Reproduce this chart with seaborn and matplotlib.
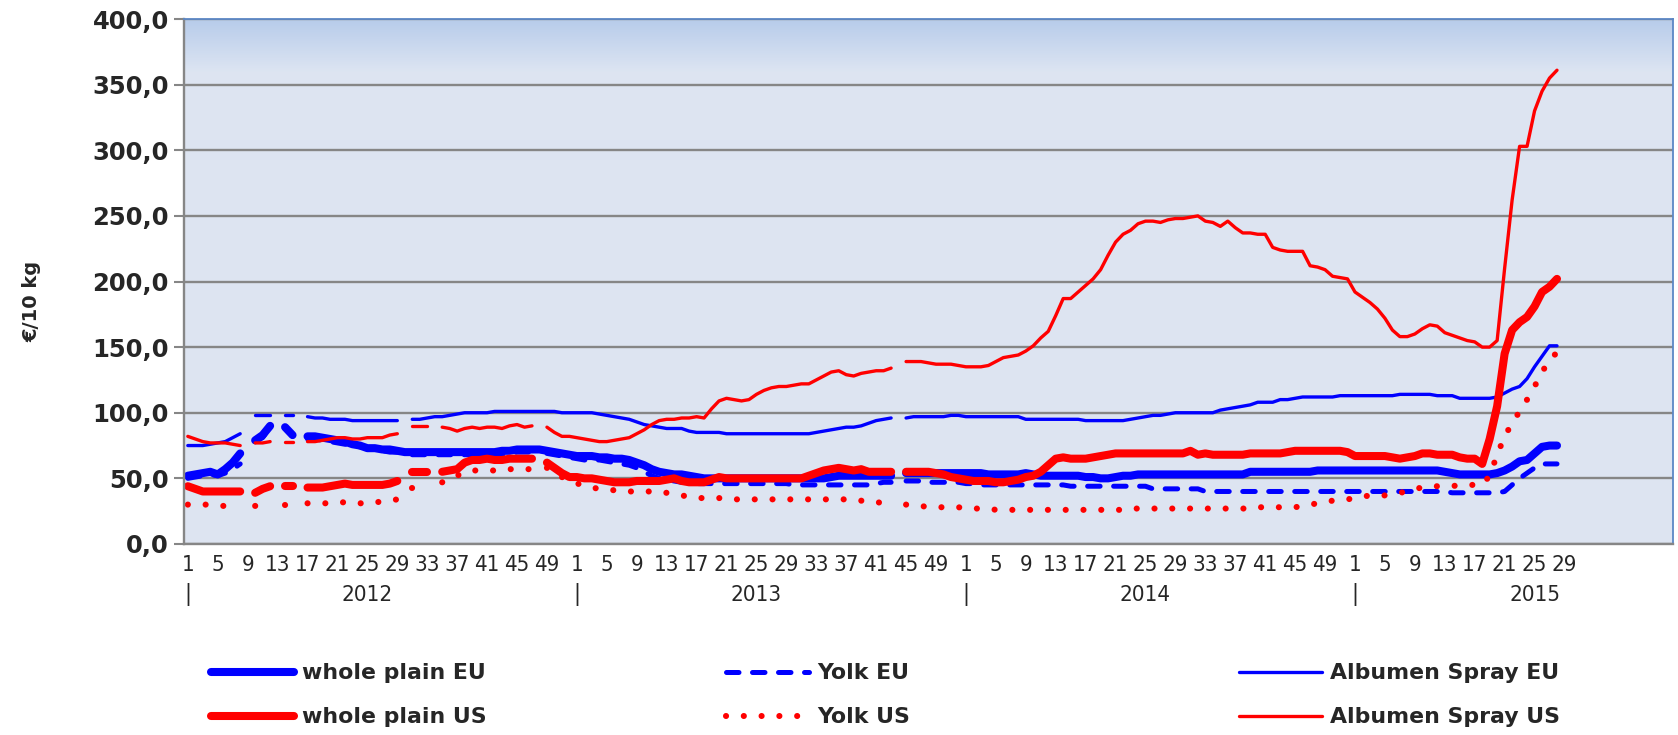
"""Egg product prices EU vs US, weekly 2012-2015 (€/10 kg)."""

import numpy as np
import pandas as pd
import matplotlib
matplotlib.use("Agg")
import matplotlib.pyplot as plt
from matplotlib import font_manager
from matplotlib.font_manager import FontProperties
from matplotlib.lines import Line2D
import matplotlib.transforms as mtransforms
import seaborn as sns

nan = np.nan

# weekly values, 2012 wk1 .. 2015 wk28 (52 + 52 + 52 + 28 weeks); nan = no quotation
whole_plain_eu = (
    [52, 53, 54, 55, 53, 57, 62, 69, nan, 79, 83, 90, nan, 89, 83, nan,
     82, 82, 81, 80, 79, 78, 76, 75, 73, 73, 72, 72, 71]
    + [70] * 13 + [71, 71, 72, 72, 72, 72, 71, 70, 69, 68]
    + [67, 67, 67, 66, 66, 65, 65, 64, 62, 60, 57, 55, 54, 53, 53, 52, 51, 50]
    + [50] * 16 + [51] + [52] * 8 + [nan] + [54] * 8
    + [54, 54, 54, 53, 53, 53, 53, 53, 54, 53, 52, 52, 52, 52, 52, 52, 51, 51,
       50, 50, 51, 52, 52, 53] + [53] * 14 + [55] * 9 + [56] * 5
    + [56] * 11 + [56, 55, 54, 53, 53, 53, 53, 53, 54, 56, 59, 63, 64, 69, 74, 75, 75]
)
yolk_eu = (
    [50, 51, 52, 53, 52, 54, 57, 61, nan, 78, 81, 89, nan, 88, 82, nan,
     80, 80, 79, 78, 77, 76, 75, 74, 73, 72, 71, 70, 70, nan]
    + [68] * 13 + [69, 70, 70, 70, nan, 69, 68, 67, 66]
    + [65, 64, 64, 64, 63, 62, 61, 60, 58, 55, 52, 50, 49, 48, 47, 47, 46, 46]
    + [46] * 11 + [45] * 11 + [46, 47, 47, nan, 48, 48, 48, 47, 47, 47, 47, 47]
    + [46, 46] + [45] * 12 + [44] * 11 + [42] * 7 + [40] * 20
    + [40] * 13 + [39] * 7 + [40, 45, 50, 54, 58, 61, 61, 61]
)
albumen_eu = (
    [75, 75, 75, 76, 77, 78, 81, 84, nan, 98, 98, 98, nan, 98, 98, nan,
     97, 96, 96, 95, 95, 95, 94, 94, 94, 94, 94, 94, 94, nan,
     95, 95, 96, 97, 97, 98, 99, 100, 100, 100, 100] + [101] * 9 + [100, 100]
    + [100, 100, 100, 99, 98, 97, 96, 95, 93, 91, 90, 89, 88, 88, 88, 86, 85, 85,
       85, 85, 84, 84] + [84] * 10
    + [85, 86, 87, 88, 89, 89, 90, 92, 94, 95, 96, nan, 96, 97, 97, 97, 97, 97, 98, 98]
    + [97] * 8 + [95] * 8 + [94] * 6 + [95, 96, 97, 98, 98, 99] + [100] * 6
    + [102, 103, 104, 105, 106, 108, 108, 108, 110, 110, 111, 112] + [112] * 4 + [113, 113]
    + [113] * 6 + [114] * 5 + [113] * 3 + [111] * 5
    + [112, 115, 118, 120, 126, 135, 143, 151, 151]
)
whole_plain_us = (
    [44, 42, 40, 40, 40, 40, 40, 40, nan, 39, 42, 44, nan, 44, 44, nan,
     43, 43, 43, 44, 45, 46, 45, 45, 45, 45, 45, 46, 48, nan, 55, 55, 55, nan,
     55, 56, 57, 62, 64, 64, 65, 64, 64, 65, 65, 65, 65, nan, 62, 58, 54, 51]
    + [51, 50, 50, 49, 48, 47, 47, 47, 48, 48, 48, 48, 49, 50, 48, 47, 47, 47, 49, 51]
    + [50] * 11 + [52, 54, 56, 57, 58, 57, 56, 57, 55, 55, 55, 55, nan,
                   55, 55, 55, 55, 54, 53, 51, 50]
    + [49, 48, 48, 48, 47, 47, 48, 49, 51, 52, 55, 60, 65, 66, 65, 65, 65, 66, 67, 68, 69]
    + [69] * 9 + [71, 68, 69, 68, 68, 68, 68, 68] + [69] * 5 + [70] + [71] * 7 + [70]
    + [67, 67, 67, 67, 67, 66, 65, 66, 67, 69, 69, 68, 68, 68, 66, 65, 65,
       61, 80, 105, 145, 163, 169, 173, 181, 192, 196, 202]
)
yolk_us = (
    [30, 30, 30, 30, 29, 29, 29, 29, nan, 29, 29, 30, nan, 30, 30, nan,
     31, 31, 31, 31, 31, 32, 32, 31, 31, 32, 32, 33, 34, nan, 43, 43, 43, nan,
     47, 50, 52, 55, 56, 56, 56, 56, 56, 57, 57, 57, 57, nan, 58, 55, 51, 48]
    + [46, 45, 43, 42, 41, 41, 40, 40, 40, 40, 40, 39, 39, 38, 37, 36, 35, 35, 35, 35,
       34, 34, 34] + [34] * 15 + [33, 32, 32, 31, 31, nan, 30, 29, 29, 28, 28, 28, 28, 28]
    + [27] * 4 + [26] * 18 + [27] * 17 + [28] * 6 + [29, 30, 31, 32, 33, 33, 34]
    + [35, 36, 37, 37, 37, 38, 39, 40, 42, 43, 44, 44, 44, 44, 45, 45, 45, 45,
       52, 68, 82, 92, 101, 110, 120, 131, 140, 146]
)
albumen_us = (
    [82, 80, 78, 77, 77, 77, 76, 75, nan, 77, 77, 78, nan, 78, 78, nan,
     78, 78, 79, 80, 81, 81, 80, 80, 81, 81, 81, 83, 84, nan, 90, 90, 90, nan,
     89, 88, 86, 88, 89, 88, 89, 89, 88, 90, 91, 89, 90, nan, 89, 85, 82, 82]
    + [81, 80, 79, 78, 78, 79, 80, 81, 84, 87, 91, 94, 95, 95, 96, 96, 97, 96, 103, 109,
       111, 110, 109]
    + [110, 114, 117, 119, 120, 120, 121, 122, 122, 125, 128, 131, 132, 129, 128, 130,
       131, 132, 132, 134, nan, 139, 139, 139, 138, 137, 137, 137, 136]
    + [135, 135, 135, 136, 139, 142, 143, 144, 147, 151, 157, 162, 174, 187, 187, 192,
       197, 202, 209, 220, 230, 236, 239, 244, 246, 246, 245, 247, 248, 248, 249, 250,
       246, 245, 242, 246, 241, 237, 237, 236, 236, 226, 224, 223, 223, 223, 212, 211,
       209, 204, 203, 202]
    + [192, 188, 184, 179, 172, 163, 158, 158, 160, 164, 167, 166, 161, 159, 157, 155,
       154, 150, 150, 155, 210, 262, 303, 303, 330, 345, 355, 361]
)

years = ["2012", "2013", "2014", "2015"]
year_start = [0, 52, 104, 156]
year_label_weeks = [list(range(1, 53, 4))] * 3 + [list(range(1, 30, 4))]
n_categories = 199

BLUE = "#0000FF"
RED = "#FF0000"
GRID = "#868686"

series = [
    ("whole plain EU", whole_plain_eu, dict(color=BLUE, linewidth=5.8, linestyle="-")),
    ("Yolk EU", yolk_eu, dict(color=BLUE, linewidth=3.6, linestyle=(0, (2.5, 2.7)))),
    ("Albumen Spray EU", albumen_eu, dict(color=BLUE, linewidth=2.4, linestyle="-")),
    ("whole plain US", whole_plain_us, dict(color=RED, linewidth=5.8, linestyle="-")),
    ("Yolk US", yolk_us, dict(color=RED, linewidth=4.4, linestyle=(0, (0.01, 2.9)))),
    ("Albumen Spray US", albumen_us, dict(color=RED, linewidth=2.4, linestyle="-")),
]

sns.set_style("white")
plt.rcParams["font.family"] = ["DejaVu Sans"]


def narrow_font(size_scale=1.0):
    # condensed face for the category labels, whatever is installed
    fonts = font_manager.fontManager.ttflist
    if any(f.name == "Liberation Sans Narrow" for f in fonts):
        return FontProperties(family="Liberation Sans Narrow", size=17 * size_scale)
    if any(f.name == "DejaVu Sans" and f.stretch == "condensed" for f in fonts):
        return FontProperties(family="DejaVu Sans", stretch="condensed", size=16 * size_scale)
    return FontProperties(family="Liberation Sans", size=14 * size_scale)


fig = plt.figure(figsize=(16.78, 7.35), dpi=100)
ax = fig.add_axes([0.1097, 0.2599, 0.8873, 0.7142])

# plot-area fill: light blue with a darker band fading in at the top
rows = np.linspace(0, 1, 300)
t = np.clip(rows / 0.10, 0, 1)[:, None]
top_c = np.array([0.72, 0.80, 0.92])
base_c = np.array([0.867, 0.898, 0.949])
img = (top_c + (base_c - top_c) * t)[:, None, :]
ax.imshow(img, extent=[0, 1, 0, 1], transform=ax.transAxes, aspect="auto",
          zorder=-2, interpolation="bilinear")

for name, values, style in series:
    df = pd.DataFrame({"x": np.arange(len(values)) + 0.5, "v": values})
    df["seg"] = df["v"].isna().cumsum()
    df = df.dropna()
    sns.lineplot(data=df, x="x", y="v", units="seg", estimator=None, ax=ax,
                 legend=False, solid_capstyle="round", dash_capstyle="round",
                 solid_joinstyle="round", **style)

ax.set_xlim(0, n_categories)
ax.set_ylim(0, 400)
ax.set_xlabel("")
ax.set_ylabel("")

ax.set_yticks(range(0, 401, 50))
ax.set_yticklabels([f"{v:.1f}".replace(".", ",") for v in range(0, 401, 50)],
                   fontsize=17.5, fontweight="bold")
ax.yaxis.grid(True, color=GRID, linewidth=1.7)
ax.xaxis.grid(False)
ax.set_axisbelow(True)

ax.set_xticks(range(0, 197, 4))
ax.set_xticklabels([])
pos, labs = [], []
for s, weeks in zip(year_start, year_label_weeks):
    for w in weeks:
        pos.append(s + w - 0.5)
        labs.append(str(w))
ax.set_xticks(pos, labels=labs, minor=True)
for lab in ax.get_xticklabels(minor=True):
    lab.set_fontproperties(narrow_font())
ax.tick_params(axis="x", which="major", direction="out", length=6, width=1.5, color=GRID)
ax.tick_params(axis="x", which="minor", length=0, pad=8)
ax.tick_params(axis="y", direction="out", length=7, width=1.5, color=GRID, pad=4,
               left=True)

trans = mtransforms.blended_transform_factory(ax.transData, ax.transAxes)
for s, yr in zip(year_start, years):
    ax.text(s + 0.5, -0.097, "|", transform=trans, ha="center", va="center",
            fontproperties=narrow_font(1.05))
    ax.text(s + 24.5, -0.097, yr, transform=trans, ha="center", va="center",
            fontproperties=narrow_font())

for side in ("left", "bottom"):
    ax.spines[side].set_color(GRID)
    ax.spines[side].set_linewidth(1.7)
for side in ("top", "right"):
    ax.spines[side].set_color("#5B87C5")
    ax.spines[side].set_linewidth(1.3)

fig.text(0.019, 0.59, "€/10 kg", rotation=90, ha="center", va="center",
         fontsize=14, fontweight="bold")

# three legend columns, EU row on top, US row below
col_x = [0.1257, 0.4327, 0.7384]
for k, x0 in enumerate(col_x):
    handles, labels = [], []
    for name, _, style in (series[k], series[k + 3]):
        handles.append(Line2D([], [], solid_capstyle="round", dash_capstyle="round", **style))
        labels.append(name)
    fig.legend(handles, labels, loc="center left", bbox_to_anchor=(x0, 0.054),
               frameon=False, borderpad=0, borderaxespad=0, handlelength=3.8,
               handletextpad=0.35, labelspacing=1.1,
               prop={"weight": "bold", "size": 15.8})

fig.savefig("out.png", dpi=100)
